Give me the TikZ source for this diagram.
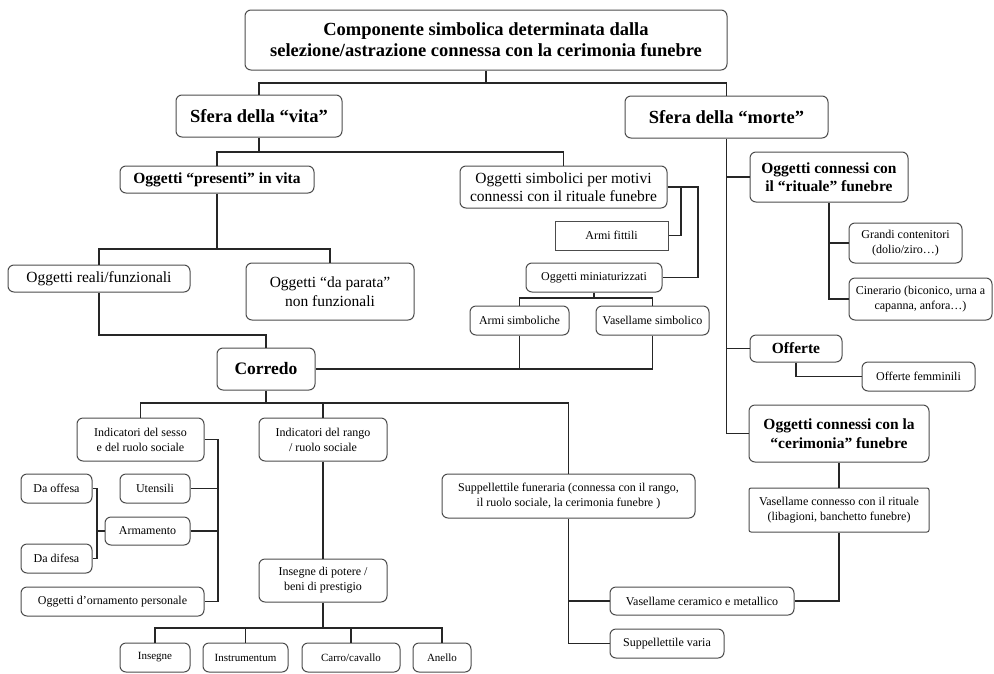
\documentclass[tikz,border=0pt]{standalone}
\usepackage{fontspec}
\setmainfont{Liberation Serif}
\usetikzlibrary{positioning}

\begin{document}
\begin{tikzpicture}[x=1pt, y=-1pt,
      box/.style={draw=black!70, line width=1pt, rounded corners=6pt, align=center,
                  inner sep=0pt},                        % one box per category
      sqbox/.style={box, rounded corners=0pt},           % square box
      big/.style={font=\fontsize{18.5}{21}\selectfont\bfseries},
      mid/.style={font=\fontsize{15.5}{18.5}\selectfont\bfseries},
      txt/.style={font=\fontsize{15.5}{18.5}\selectfont},
      sml/.style={font=\fontsize{12}{15}\selectfont},
      tny/.style={font=\fontsize{11}{13}\selectfont},
      link/.style={draw=black!85, line width=1.6pt}]     % connector style
    \useasboundingbox (0,0) rectangle (994,673);
    % top levels
    \node[box, big, minimum width=482, minimum height=60] (title) at (486,40)
      {Componente simbolica determinata dalla\\selezione/astrazione connessa con la cerimonia funebre};
    \node[box, big, minimum width=166, minimum height=42] (vita) at (259,116) {Sfera della “vita”};
    \node[box, big, minimum width=203, minimum height=42] (morte) at (726.5,117) {Sfera della “morte”};
    % sfera della vita
    \node[box, mid, minimum width=194, minimum height=27] (presenti) at (217,179.5) {Oggetti “presenti” in vita};
    \node[box, txt, minimum width=207, minimum height=42] (simbolici) at (563.5,187)
      {Oggetti simbolici per motivi\\connessi con il rituale funebre};
    \node[sqbox, sml, minimum width=113, minimum height=29] (fittili) at (611.5,235.5) {Armi fittili};
    \node[box, sml, minimum width=136, minimum height=29] (mini) at (594,277.5) {Oggetti miniaturizzati};
    \node[box, sml, minimum width=99, minimum height=29] (armisimb) at (519.5,320.5) {Armi simboliche};
    \node[box, sml, minimum width=113, minimum height=29] (vassimb) at (652.5,320.5) {Vasellame simbolico};
    \node[box, txt, minimum width=182, minimum height=27] (reali) at (99,278.5) {Oggetti reali/funzionali};
    \node[box, txt, minimum width=168, minimum height=57] (parata) at (330,291.5) {Oggetti “da parata”\\non funzionali};
    \node[box, font=\fontsize{17.5}{20}\selectfont\bfseries, minimum width=98, minimum height=42] (corredo) at (266,369) {Corredo};
    % sfera della morte
    \node[box, mid, minimum width=158, minimum height=50] (rituale) at (829,177) {Oggetti connessi con\\il “rituale” funebre};
    \node[box, sml, minimum width=113, minimum height=40] (grandi) at (905.5,243) {Grandi contenitori\\(dolio/ziro…)};
    \node[box, sml, minimum width=143, minimum height=42] (cinerario) at (920.5,299) {Cinerario (biconico, urna a\\capanna, anfora…)};
    \node[box, mid, minimum width=92, minimum height=27] (offerte) at (796,348.5) {Offerte};
    \node[box, sml, minimum width=113, minimum height=29] (femminili) at (918.5,376.5) {Offerte femminili};
    \node[box, mid, minimum width=180, minimum height=57] (cerimonia) at (839,433.5) {Oggetti connessi con la\\“cerimonia” funebre};
    \node[box, sml, rounded corners=2pt, minimum width=180, minimum height=44] (vasrit) at (839,510)
      {Vasellame connesso con il rituale\\(libagioni, banchetto funebre)};
    \node[box, sml, minimum width=184, minimum height=28] (ceramico) at (702,601) {Vasellame ceramico e metallico};
    \node[box, sml, minimum width=114, minimum height=29] (varia) at (667,643.5) {Suppellettile varia};
    % corredo
    \node[box, sml, minimum width=253, minimum height=44] (suppfun) at (568.5,496)
      {Suppellettile funeraria (connessa con il rango,\\il ruolo sociale, la cerimonia funebre )};
    \node[box, sml, minimum width=127, minimum height=43] (sesso) at (140.5,439.5) {Indicatori del sesso\\e del ruolo sociale};
    \node[box, sml, minimum width=128, minimum height=43] (rango) at (323,439.5) {Indicatori del rango\\/ ruolo sociale};
    \node[box, sml, minimum width=71, minimum height=29] (offesa) at (56.5,488.5) {Da offesa};
    \node[box, sml, minimum width=70, minimum height=29] (utensili) at (155,488.5) {Utensili};
    \node[box, sml, minimum width=85, minimum height=28] (armamento) at (147.5,531) {Armamento};
    \node[box, sml, minimum width=71, minimum height=29] (difesa) at (56.5,558.5) {Da difesa};
    \node[box, sml, minimum width=183, minimum height=29] (ornamento) at (112.5,601.5) {Oggetti d’ornamento personale};
    \node[box, sml, minimum width=128, minimum height=43] (potere) at (323,580.5) {Insegne di potere /\\beni di prestigio};
    \node[box, tny, minimum width=70, minimum height=29] (insegne) at (155,657.5) {Insegne};
    \node[box, tny, minimum width=85, minimum height=29] (instrum) at (245.5,657.5) {Instrumentum};
    \node[box, tny, minimum width=98, minimum height=29] (carro) at (351,657.5) {Carro/cavallo};
    \node[box, tny, minimum width=58, minimum height=29] (anello) at (442,657.5) {Anello};
    % junction points
    \coordinate (t1) at (486,83);
    \coordinate (v1) at (259,152);
    \coordinate (p1) at (217,249);
    \coordinate (c1) at (266,335);
    \coordinate (m1) at (594,298);
    \coordinate (s1) at (681,187);
    \coordinate (s2) at (698,187);
    \coordinate (k1) at (266,403);
    \coordinate (x1) at (218,439.5);
    \coordinate (a1) at (97,531);
    \coordinate (i1) at (323,628);
    % connectors
    \draw[link] (title) -- (t1);
    \draw[link] (vita.north) |- (t1) -| (morte.north);
    \draw[link] (vita) -- (v1);
    \draw[link] (presenti.north) |- (v1) -| (simbolici.north);
    \draw[link] (presenti) -- (p1);
    \draw[link] (reali.north) |- (p1) -| (parata.north);
    \draw[link] (reali.south) |- (c1) -- (corredo.north);
    \draw[link] (corredo.east) -- (vassimb.south |- corredo.east);
    \draw[link] (armisimb.south) -- (armisimb.south |- corredo.east);
    \draw[link] (vassimb.south) -- (vassimb.south |- corredo.east);
    \draw[link] (mini) -- (m1);
    \draw[link] (armisimb.north) |- (m1) -| (vassimb.north);
    \draw[link] (simbolici.east) -- (s2) |- (mini.east);
    \draw[link] (s1) |- (fittili.east);
    \draw[link] (morte.south) |- (cerimonia.west);
    \draw[link] (rituale.west) -- (rituale.west -| morte.south);
    \draw[link] (offerte.west) -- (offerte.west -| morte.south);
    \draw[link] (rituale.south) |- (cinerario.west);
    \draw[link] (grandi.west) -- (grandi.west -| rituale.south);
    \draw[link] (offerte.south) |- (femminili.west);
    \draw[link] (cerimonia) -- (vasrit);
    \draw[link] (vasrit.south) |- (ceramico.east);
    \draw[link] (corredo) -- (k1);
    \draw[link] (sesso.north) |- (k1) -| (suppfun.north);
    \draw[link] (rango.north) -- (rango.north |- k1);
    \draw[link] (suppfun.south) |- (varia.west);
    \draw[link] (ceramico.west) -- (ceramico.west -| suppfun.south);
    \draw[link] (sesso.east) -- (x1) |- (ornamento.east);
    \draw[link] (utensili.east) -- (utensili.east -| x1);
    \draw[link] (armamento.east) -- (armamento.east -| x1);
    \draw[link] (armamento.west) -- (a1);
    \draw[link] (offesa.east) -| (a1);
    \draw[link] (difesa.east) -| (a1);
    \draw[link] (rango) -- (potere);
    \draw[link] (potere) -- (i1);
    \draw[link] (insegne.north) |- (i1) -| (anello.north);
    \draw[link] (instrum.north) -- (instrum.north |- i1);
    \draw[link] (carro.north) -- (carro.north |- i1);
  \end{tikzpicture}
\end{document}
